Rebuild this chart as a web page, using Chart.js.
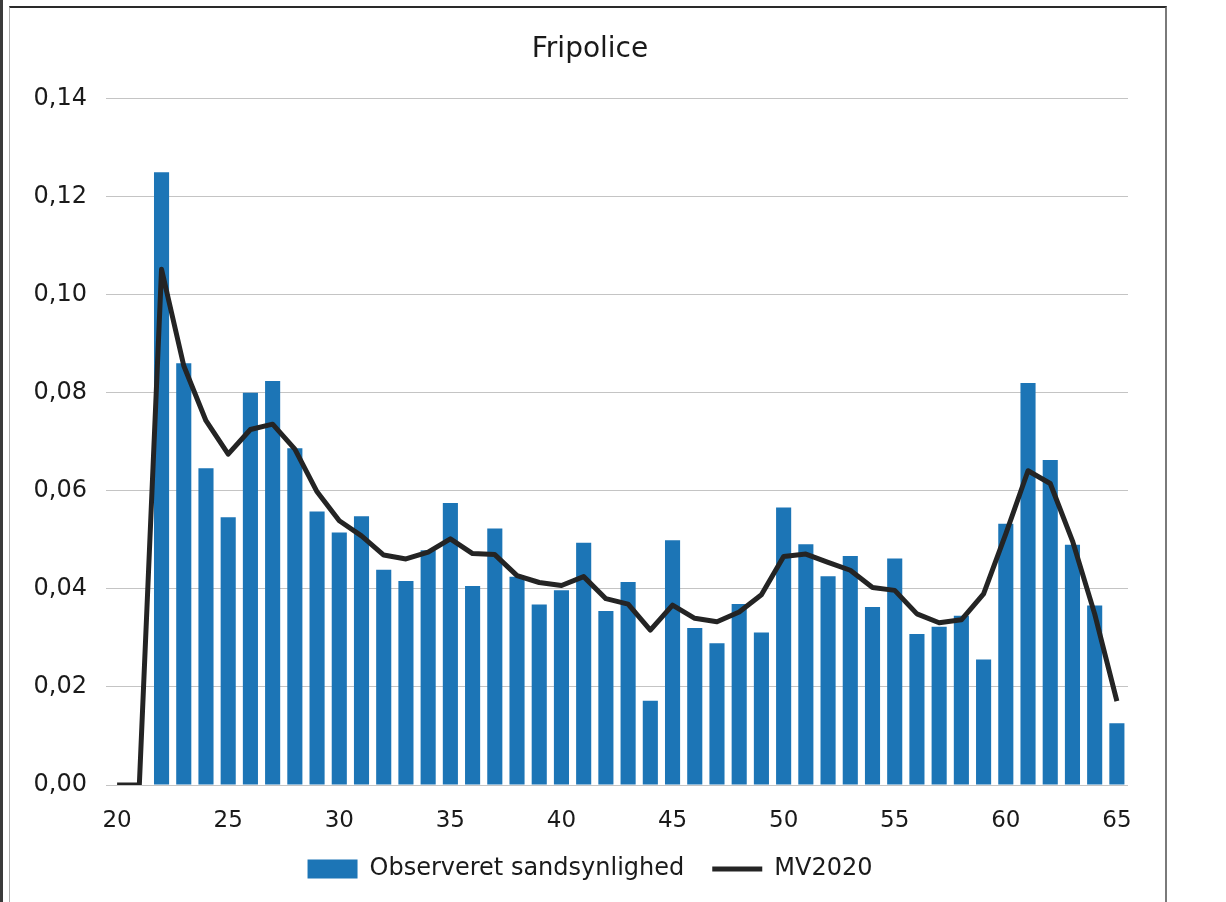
<!DOCTYPE html>
<html>
<head>
<meta charset="utf-8">
<script src="https://cdn.jsdelivr.net/npm/chart.js@4.4.1/dist/chart.umd.min.js"></script>
<style>
  html, body { margin: 0; padding: 0; background: #ffffff; width: 1226px; height: 902px; overflow: hidden; }
  #frame { position: absolute; left: 9px; top: 6px; width: 1155px; height: 910px;
           border-top: 2px solid #2a2a2a; border-left: 1px solid #b0b0b0; border-right: 2px solid #7a7a7a; }
  #edge { position: absolute; left: 0; top: 0; width: 3px; height: 902px; background: #3a3a3a; }
  #c { position: absolute; left: 0; top: 0; }
</style>
</head>
<body>
<div id="edge"></div>
<div id="frame"></div>
<canvas id="c" width="1226" height="902"></canvas>
<script>
// Ages (categories)
const ages = [20,21,22,23,24,25,26,27,28,29,30,31,32,33,34,35,36,37,38,39,40,41,42,43,44,45,46,47,48,49,50,51,52,53,54,55,56,57,58,59,60,61,62,63,64,65];

// Observeret sandsynlighed (bars)
const observed = [null,null,0.125,0.086,0.0646,0.0546,0.080,0.0824,0.0687,0.0558,0.0515,0.0548,0.0439,0.0416,0.0479,0.0575,0.0406,0.0523,0.0425,0.0368,0.0397,0.0494,0.0355,0.0414,0.0172,0.0499,0.0320,0.0289,0.0369,0.0311,0.0566,0.0491,0.0426,0.0467,0.0363,0.0462,0.0308,0.0323,0.0345,0.0256,0.0533,0.0820,0.0663,0.0490,0.0366,0.0126];

// MV2020 (line)
const mv2020 = [0,0,0.1052,0.0855,0.0743,0.0675,0.0725,0.0736,0.0685,0.0598,0.0539,0.0508,0.0469,0.0461,0.0475,0.0502,0.0472,0.0470,0.0427,0.0413,0.0407,0.0425,0.0380,0.0369,0.0316,0.0367,0.0340,0.0333,0.0353,0.0388,0.0466,0.0471,0.0454,0.0438,0.0403,0.0397,0.0349,0.0331,0.0337,0.0390,0.0512,0.0641,0.0615,0.0498,0.0349,0.0171];

// Y tick values
const yTicks = [0,0.02,0.04,0.06,0.08,0.10,0.12,0.14];

const titleText = 'Fripolice';
const seriesNames = ['Observeret sandsynlighed', 'MV2020'];

const FONT = "'DejaVu Sans', Verdana, sans-serif";
const TEXT = '#1a1a1a';
const BLUE = '#1c75b6';
const DARK = '#242424';

new Chart(document.getElementById('c'), {
  type: 'bar',
  data: {
    labels: ages,
    datasets: [
      {
        type: 'bar',
        label: seriesNames[0],
        data: observed,
        backgroundColor: BLUE,
        borderWidth: 0,
        barPercentage: 0.68,
        categoryPercentage: 1.0,
        pointStyle: 'rect',
        order: 2
      },
      {
        type: 'line',
        label: seriesNames[1],
        data: mv2020,
        borderColor: DARK,
        backgroundColor: DARK,
        borderWidth: 5,
        pointRadius: 0,
        pointHoverRadius: 0,
        tension: 0,
        fill: false,
        pointStyle: 'line',
        borderJoinStyle: 'round',
        order: 1
      }
    ]
  },
  options: {
    responsive: false,
    animation: false,
    devicePixelRatio: 1,
    layout: { padding: { left: 25, right: 71, top: 0, bottom: 11 } },
    plugins: {
      title: {
        display: true,
        text: titleText,
        color: TEXT,
        font: { family: FONT, size: 28, weight: 'normal' },
        padding: { top: 33, bottom: 32 }
      },
      legend: {
        display: true,
        position: 'bottom',
        labels: {
          color: TEXT,
          font: { family: FONT, size: 24 },
          usePointStyle: true,
          pointStyleWidth: 50,
          boxHeight: 19,
          padding: 28,
          sort: (a, b) => a.datasetIndex - b.datasetIndex,
          generateLabels: (chart) => {
            const items = Chart.defaults.plugins.legend.labels.generateLabels(chart);
            items.forEach(it => {
              if (it.datasetIndex === 0) { it.pointStyle = 'rect'; it.lineWidth = 0; it.fillStyle = BLUE; it.strokeStyle = BLUE; }
              else { it.pointStyle = 'line'; it.lineWidth = 5; it.strokeStyle = DARK; }
            });
            return items;
          }
        }
      },
      tooltip: { enabled: false }
    },
    scales: {
      x: {
        offset: true,
        grid: { display: false, drawTicks: false },
        border: { display: false },
        afterFit: (axis) => { axis.height = 44; },
        ticks: {
          autoSkip: false,
          maxRotation: 0,
          minRotation: 0,
          padding: 22,
          color: TEXT,
          font: { family: FONT, size: 23 },
          callback: function(v, i) { return ages[i] % 5 === 0 ? String(ages[i]) : ''; }
        }
      },
      y: {
        min: 0,
        max: 0.14,
        afterBuildTicks: (axis) => { axis.ticks = yTicks.map(v => ({ value: v })); },
        afterFit: (axis) => { axis.width = 81; },
        grid: { color: '#c4c4c4', lineWidth: 1, drawTicks: false },
        border: { display: false },
        ticks: {
          padding: 19,
          color: TEXT,
          font: { family: FONT, size: 24 },
          callback: (v) => v.toFixed(2).replace('.', ',')
        }
      },
      ySpacer: {
        type: 'linear',
        position: 'right',
        display: true,
        grid: { display: false, drawTicks: false },
        border: { display: false },
        ticks: { display: false },
        afterFit: (axis) => { axis.width = 27; }
      }
    }
  }
});
</script>
</body>
</html>
